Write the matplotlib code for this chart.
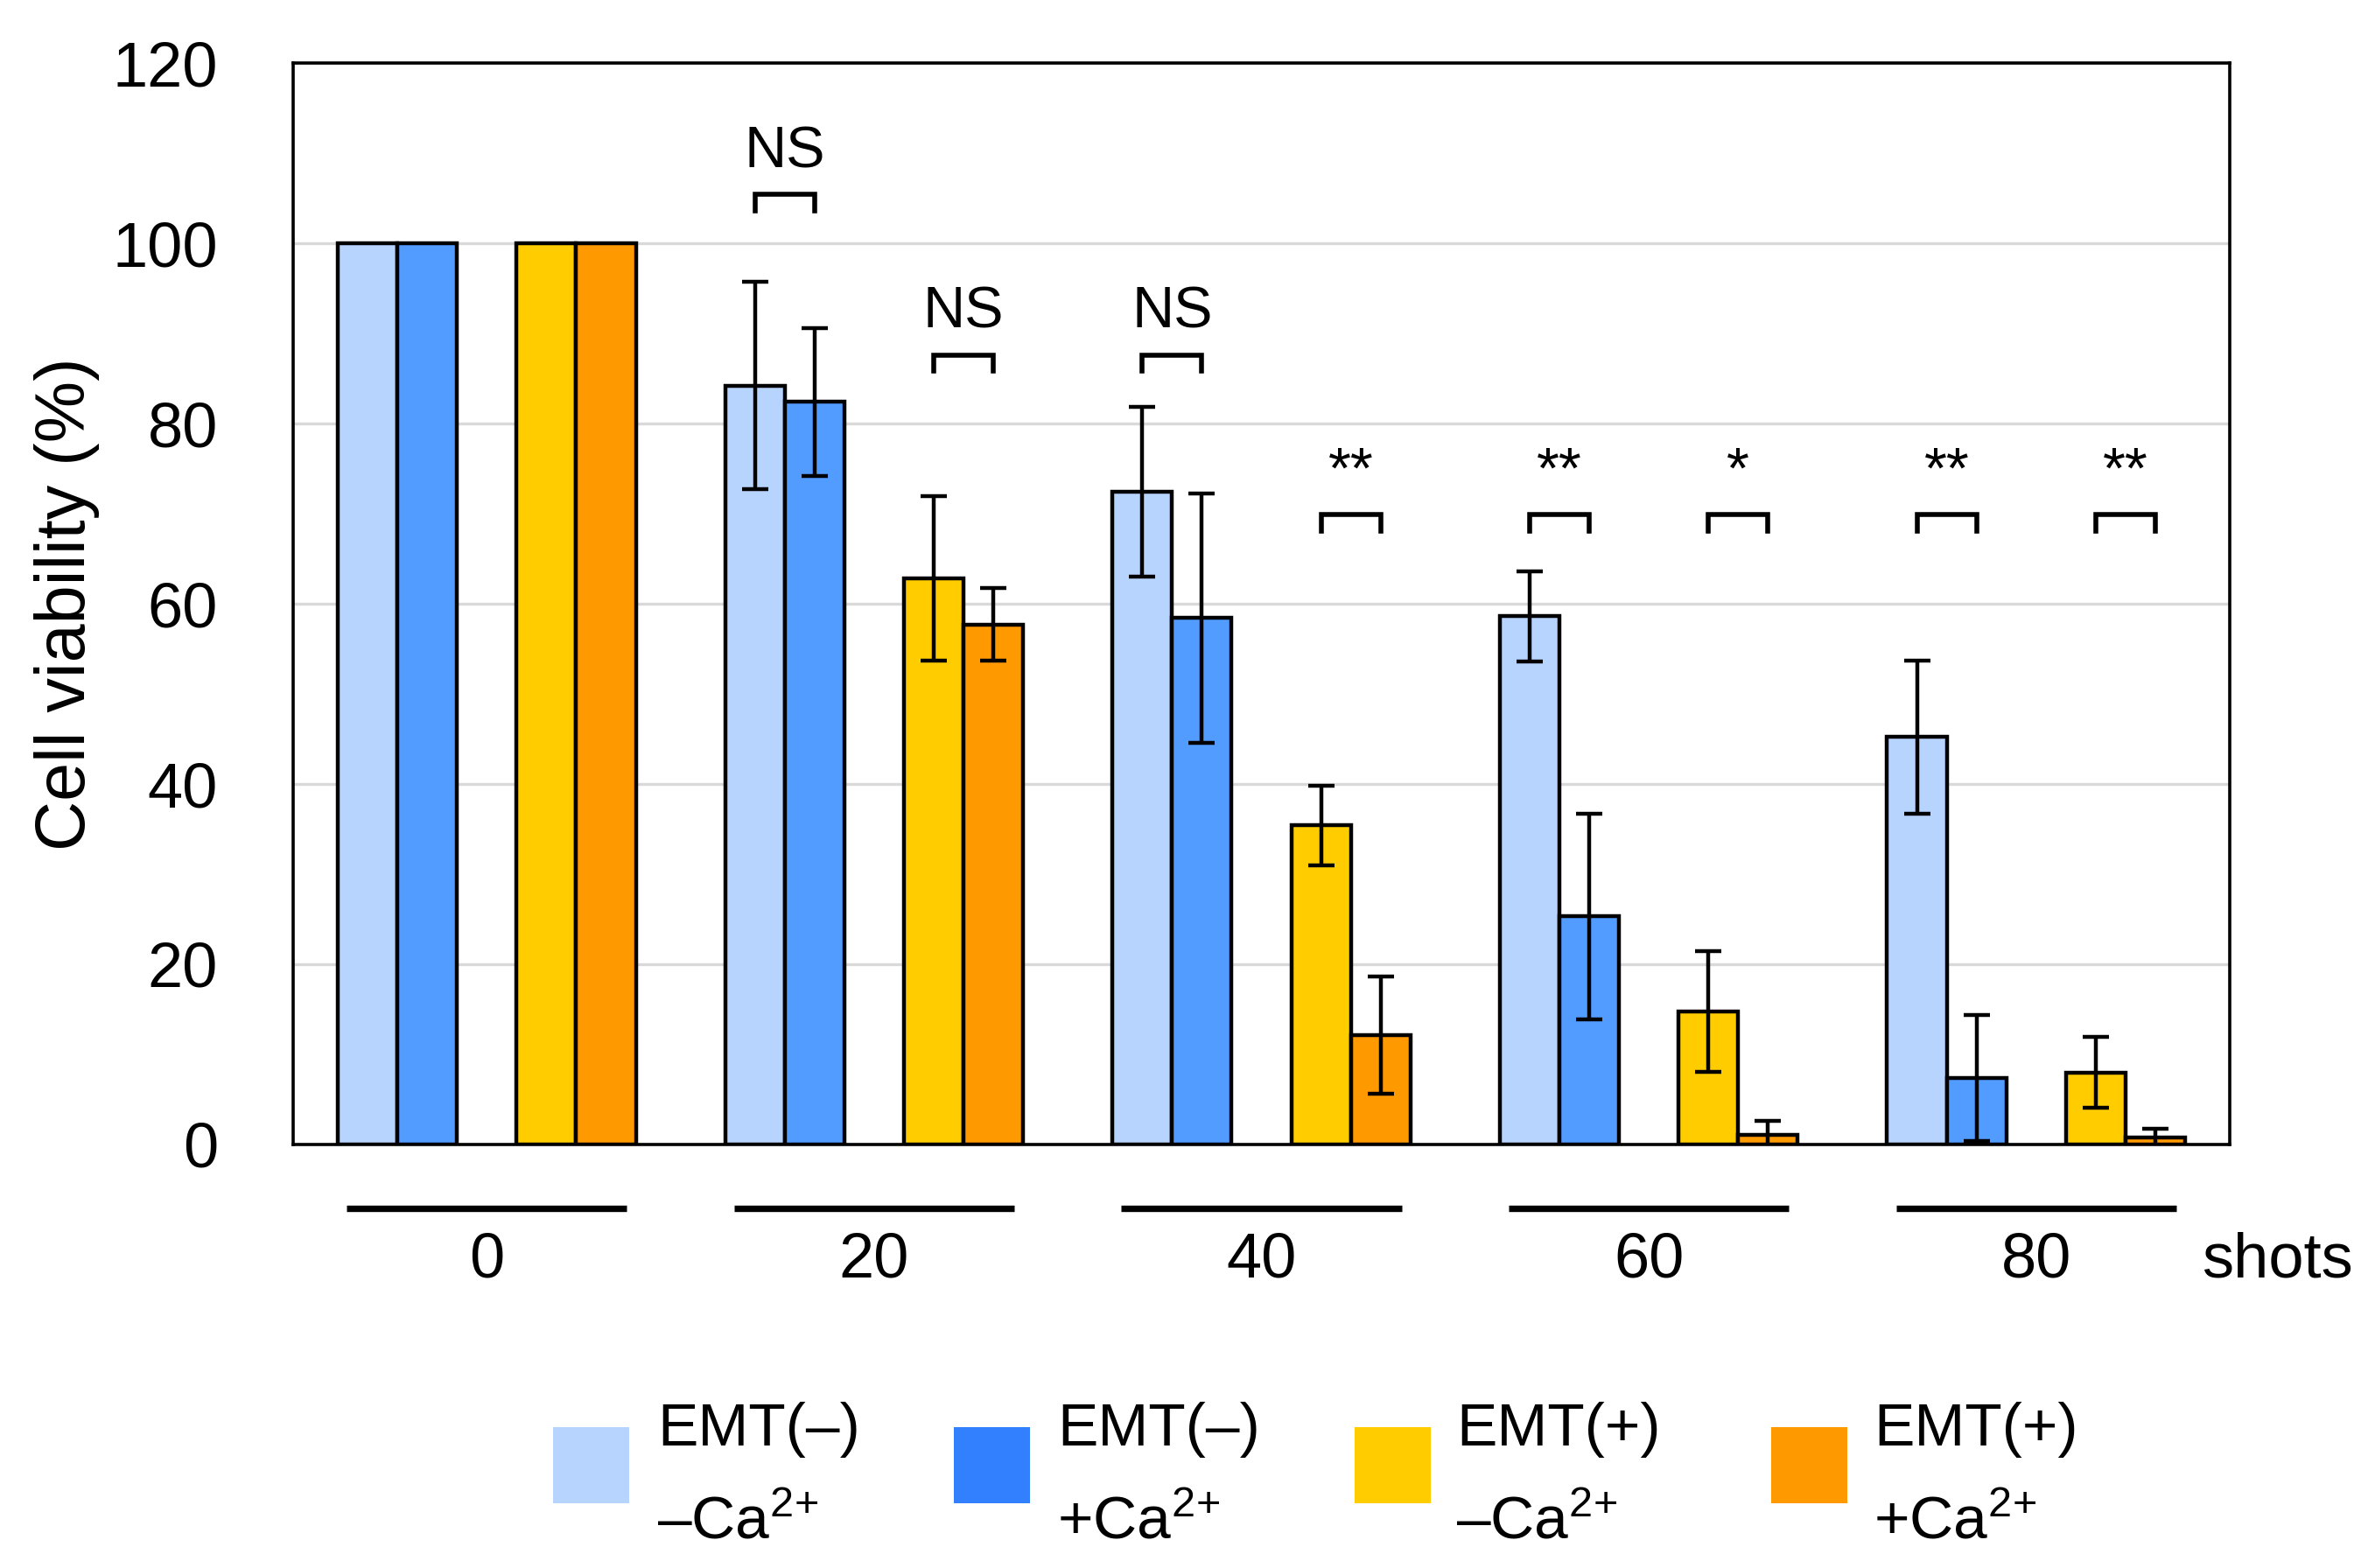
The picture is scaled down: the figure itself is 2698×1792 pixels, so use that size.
import numpy as np
import matplotlib
matplotlib.use("Agg")
import matplotlib.pyplot as plt
from matplotlib.patches import Rectangle

plt.rcParams['font.family'] = ['Liberation Sans', 'DejaVu Sans']
plt.rcParams['mathtext.fontset'] = 'custom'
plt.rcParams['mathtext.rm'] = 'Liberation Sans'
plt.rcParams['mathtext.it'] = 'Liberation Sans:italic'
plt.rcParams['mathtext.bf'] = 'Liberation Sans:bold'

# shots groups
shots = ['0', '20', '40', '60', '80']

# cell viability (%) and error bars for each condition
emt_neg_noca = [100, 84.2, 72.4, 58.6, 45.2]
emt_neg_noca_err = [0, 11.5, 9.4, 5.0, 8.5]
emt_neg_ca = [100, 82.4, 58.4, 25.3, 7.4]
emt_neg_ca_err = [0, 8.2, 13.8, 11.4, 7.0]
emt_pos_noca = [100, 62.8, 35.4, 14.8, 8.0]
emt_pos_noca_err = [0, 9.1, 4.4, 6.7, 3.9]
emt_pos_ca = [100, 57.7, 12.1, 1.1, 0.8]
emt_pos_ca_err = [0, 4.0, 6.5, 1.5, 0.9]

legend_labels = [('EMT(–)', '–Ca$^{2\\!+}$'), ('EMT(–)', '+Ca$^{2\\!+}$'),
                 ('EMT(+)', '–Ca$^{2\\!+}$'), ('EMT(+)', '+Ca$^{2\\!+}$')]
bar_colors = ['#B7D4FF', '#529BFF', '#FFCC00', '#FF9900']
legend_colors = ['#B7D4FF', '#3380FF', '#FFCC00', '#FF9900']

# significance marks: (group index, pair index 0 = EMT(-), 1 = EMT(+), label, bracket height)
sig_marks = [(1, 0, 'NS', 105.4), (1, 1, 'NS', 87.6),
             (2, 0, 'NS', 87.6), (2, 1, '**', 69.9),
             (3, 0, '**', 69.9), (3, 1, '*', 69.9),
             (4, 0, '**', 69.9), (4, 1, '**', 69.9)]

series = [(emt_neg_noca, emt_neg_noca_err), (emt_neg_ca, emt_neg_ca_err),
          (emt_pos_noca, emt_pos_noca_err), (emt_pos_ca, emt_pos_ca_err)]

fig = plt.figure(figsize=(26.98, 17.92), dpi=100)
ax = fig.add_axes([0.12417, 0.27009, 0.82024, 0.68973])

group_w = 6.5
centers = np.arange(len(shots)) * group_w + group_w / 2
offsets = [-2, -1, 1, 2]

for (vals, errs), off, col in zip(series, offsets, bar_colors):
    x = centers + off
    ax.bar(x, vals, width=1.0, color=col, edgecolor='black', linewidth=3.2, zorder=2)
    errs = np.array(errs)
    m = errs > 0
    ax.errorbar(x[m], np.array(vals)[m], yerr=errs[m], fmt='none', ecolor='black',
                elinewidth=3.2, capsize=11, capthick=3.2, zorder=3)

# significance brackets
for g, p, lab, h in sig_marks:
    x1 = centers[g] + offsets[2 * p]
    x2 = centers[g] + offsets[2 * p + 1]
    ax.plot([x1, x1, x2, x2], [h - 1.8, h, h, h - 1.8], color='black', lw=4.0,
            solid_joinstyle='miter', zorder=3)
    ax.text((x1 + x2) / 2, h + 3.0, lab, ha='center', va='baseline', fontsize=48)

# group underlines and labels below the axis
for c, s in zip(centers, shots):
    ax.plot([c - 2.35, c + 2.35], [-7.1, -7.1], color='black', lw=5.3,
            solid_capstyle='butt', clip_on=False)
    ax.text(c, -12.9, s, ha='center', va='center', fontsize=52, clip_on=False)
ax.text(33.3, -12.9, 'shots', ha='center', va='center', fontsize=52, clip_on=False)

ax.set_xlim(0, len(shots) * group_w)
ax.set_ylim(0, 120)
ax.set_yticks(range(0, 121, 20))
ax.set_xticks([])
ax.tick_params(axis='y', length=0, pad=62, labelsize=52)
ax.yaxis.grid(True, color='#D9D9D9', lw=2.4)
ax.set_axisbelow(True)
for sp in ax.spines.values():
    sp.set_linewidth(2.6)
    sp.set_zorder(4)

ax.set_ylabel('Cell viability (%)', fontsize=57)
ax.yaxis.set_label_coords(-0.1166, 0.5)
ax.yaxis.label.set_verticalalignment('center')

# legend drawn by hand: swatch + two-line label
W, H = 2698, 1792
swatch_x = [632, 1090, 1548, 2024]
text_x = [751, 1208, 1664, 2141]
for sx, tx, col, (l1, l2) in zip(swatch_x, text_x, legend_colors, legend_labels):
    fig.add_artist(Rectangle((sx / W, 1 - 1718 / H), 87 / W, 87 / H,
                             transform=fig.transFigure, facecolor=col, edgecolor='none'))
    fig.text(tx / W, 1 - 1652 / H, l1, ha='left', va='baseline', fontsize=50)
    fig.text(tx / W, 1 - 1758 / H, l2, ha='left', va='baseline', fontsize=50)

fig.savefig('out.png', dpi=100)
